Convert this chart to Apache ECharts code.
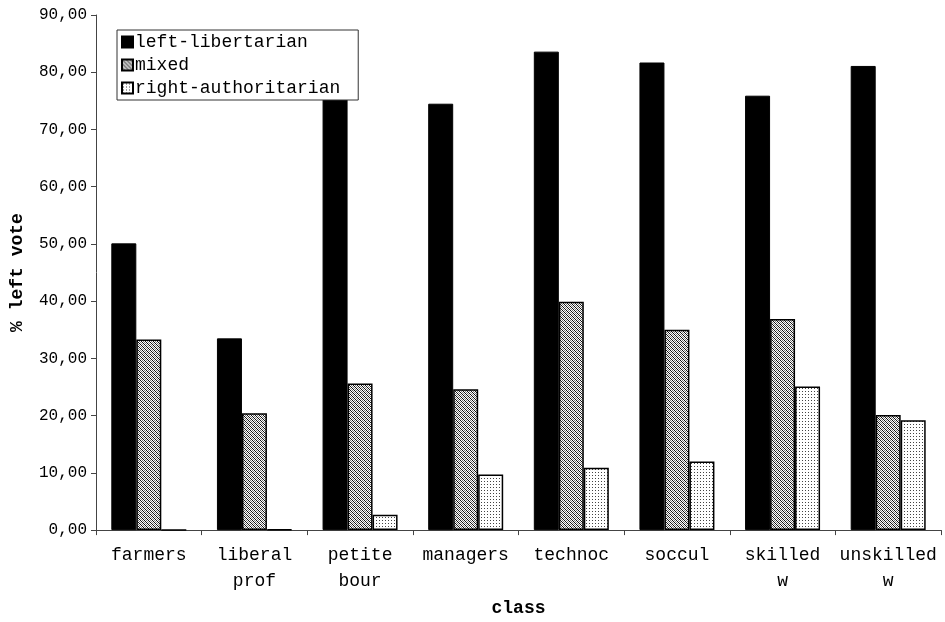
<!DOCTYPE html>
<html>
<head>
<meta charset="utf-8">
<script src="https://cdn.jsdelivr.net/npm/echarts@6/dist/echarts.min.js"></script>
<style>
  html, body { margin: 0; padding: 0; background: #fff; }
  #main { width: 945px; height: 622px; }
</style>
</head>
<body>
<div id="main"></div>
<script>
var categories = ['farmers', 'liberal\nprof', 'petite\nbour', 'managers', 'technoc', 'soccul', 'skilled\nw', 'unskilled\nw'];
var leftLibertarian = [50.1, 33.5, 77.0, 74.5, 83.6, 81.7, 75.9, 81.1];
var mixed = [33.3, 20.4, 25.6, 24.6, 39.9, 35.0, 36.9, 20.1];
var rightAuthoritarian = [0, 0.1, 2.7, 9.7, 10.9, 12.0, 25.1, 19.2];
var yTickLabels = ['0,00', '10,00', '20,00', '30,00', '40,00', '50,00', '60,00', '70,00', '80,00', '90,00'];

var mono = '"Liberation Mono", "DejaVu Sans Mono", monospace';

// small canvas patterns for the hatched fills
function makePattern(size, draw) {
    var c = document.createElement('canvas');
    c.width = size; c.height = size;
    var ctx = c.getContext('2d');
    ctx.fillStyle = '#fff';
    ctx.fillRect(0, 0, size, size);
    draw(ctx);
    return { image: c, repeat: 'repeat' };
}
var mixedFill = makePattern(4, function (ctx) {
    ctx.fillStyle = '#111';
    ctx.fillRect(0, 0, 1, 1); ctx.fillRect(1, 1, 1, 1);
    ctx.fillRect(2, 2, 1, 1); ctx.fillRect(3, 3, 1, 1);
    ctx.fillStyle = '#777';
    ctx.fillRect(2, 0, 1, 1); ctx.fillRect(0, 2, 1, 1);
    ctx.fillRect(3, 1, 1, 1); ctx.fillRect(1, 3, 1, 1);
});
var rightFill = makePattern(3, function (ctx) {
    ctx.fillStyle = '#444';
    ctx.fillRect(1, 1, 1, 1);
});

var chart = echarts.init(document.getElementById('main'));
chart.setOption({
    animation: false,
    backgroundColor: '#fff',
    grid: { left: 92, right: 4, top: 15, bottom: 80 },
    legend: {
        orient: 'vertical',
        left: 117,
        top: 30,
        z: 10,
        padding: [3, 18, 3, 4],
        itemGap: 5,
        itemWidth: 11,
        itemHeight: 11,
        backgroundColor: '#fff',
        borderColor: '#333',
        borderWidth: 1,
        icon: 'rect',
        textStyle: { fontFamily: mono, fontSize: 18, color: '#000', padding: [0, 0, 0, -3] },
        data: ['left-libertarian', 'mixed', 'right-authoritarian']
    },
    xAxis: {
        type: 'category',
        data: categories,
        name: 'class',
        nameLocation: 'middle',
        nameGap: 62,
        nameTextStyle: { fontFamily: mono, fontSize: 18, fontWeight: 'bold', color: '#000' },
        axisLine: { lineStyle: { color: '#444', width: 1 } },
        axisTick: { show: true, length: 5, lineStyle: { color: '#444' } },
        axisLabel: { fontFamily: mono, fontSize: 18, color: '#000', margin: 12, lineHeight: 26, interval: 0 }
    },
    yAxis: {
        type: 'value',
        min: 0,
        max: 90,
        interval: 10,
        name: '% left vote',
        nameLocation: 'middle',
        nameGap: 70,
        nameTextStyle: { fontFamily: mono, fontSize: 18, fontWeight: 'bold', color: '#000' },
        axisLine: { show: true, lineStyle: { color: '#444', width: 1 } },
        axisTick: { show: true, length: 5, lineStyle: { color: '#444' } },
        splitLine: { show: false },
        axisLabel: {
            fontFamily: mono, fontSize: 16, color: '#000', margin: 9,
            formatter: function (v) { return yTickLabels[Math.round(v / 10)]; }
        }
    },
    series: [
        {
            name: 'left-libertarian', type: 'bar', data: leftLibertarian,
            barGap: '0%', barCategoryGap: '29%', z: 1,
            itemStyle: { color: '#000', borderColor: '#000', borderWidth: 1 }
        },
        {
            name: 'mixed', type: 'bar', data: mixed, barGap: '0%', z: 1,
            itemStyle: { color: mixedFill, borderColor: '#000', borderWidth: 1.5 }
        },
        {
            name: 'right-authoritarian', type: 'bar', data: rightAuthoritarian, barGap: '0%', z: 1,
            itemStyle: { color: rightFill, borderColor: '#000', borderWidth: 1.5 }
        }
    ]
});
</script>
</body>
</html>
